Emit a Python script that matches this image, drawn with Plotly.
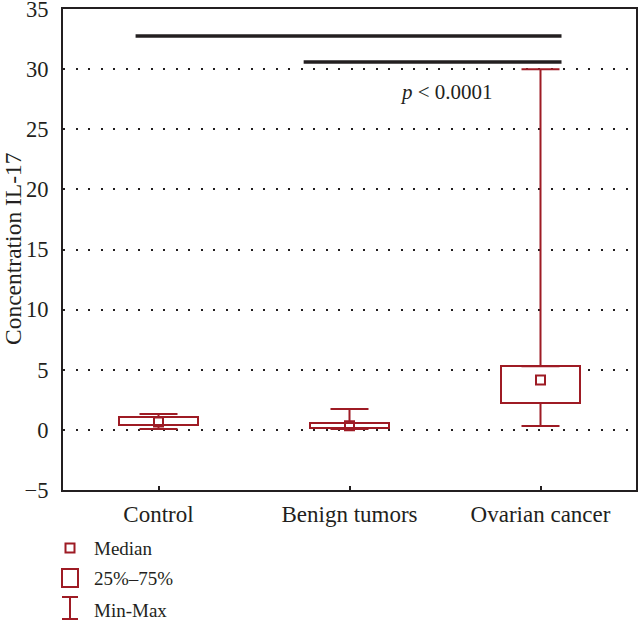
import plotly.graph_objects as go

# ---- data ----
categories = ["Control", "Benign tumors", "Ovarian cancer"]
q1 = [0.41, 0.16, 2.24]
q3 = [1.08, 0.57, 5.30]
median = [0.66, 0.35, 4.15]
vmin = [0.08, 0.07, 0.32]
vmax = [1.32, 1.74, 30.0]
y_ticks = [-5, 0, 5, 10, 15, 20, 25, 30, 35]
legend_labels = ["Median", "25%\u201375%", "Min-Max"]
sig_lines = [(-0.12, 2.11, 32.76), (0.76, 2.11, 30.6)]  # (x start, x end, y)
p_text = "<i>p</i> < 0.0001"
p_pos = (1.51, 28.1)

RED = "#9e1b24"
INK = "#231f20"
FONT = "Liberation Serif"

xs = list(range(len(categories)))

fig = go.Figure()

# upper whiskers
fig.add_trace(go.Scatter(
    x=xs, y=q3, mode="markers",
    marker=dict(size=1, color="rgba(0,0,0,0)"),
    error_y=dict(type="data", symmetric=False,
                 array=[a - b for a, b in zip(vmax, q3)],
                 arrayminus=[0] * 3, color=RED, thickness=2, width=19),
    showlegend=False, hoverinfo="skip"))
# lower whiskers
fig.add_trace(go.Scatter(
    x=xs, y=q1, mode="markers",
    marker=dict(size=1, color="rgba(0,0,0,0)"),
    error_y=dict(type="data", symmetric=False,
                 array=[0] * 3,
                 arrayminus=[b - a for a, b in zip(vmin, q1)],
                 color=RED, thickness=2, width=19),
    showlegend=False, hoverinfo="skip"))
# boxes
fig.add_trace(go.Bar(
    x=xs, y=[b - a for a, b in zip(q1, q3)], base=q1, width=0.41,
    marker=dict(color="white", line=dict(color=RED, width=2)),
    showlegend=False, hoverinfo="skip"))
# medians
fig.add_trace(go.Scatter(
    x=xs, y=median, mode="markers",
    marker=dict(symbol="square-open", size=9, color=RED, line=dict(width=2, color=RED)),
    showlegend=False, hoverinfo="skip"))

# significance lines
for x0, x1, yy in sig_lines:
    fig.add_shape(type="line", xref="x", yref="y", x0=x0, x1=x1, y0=yy, y1=yy,
                  line=dict(color=INK, width=3.5))

fig.add_annotation(x=p_pos[0], y=p_pos[1], xref="x", yref="y", text=p_text,
                   showarrow=False, font=dict(family=FONT, size=21, color=INK))

# ---- legend drawn in pixel positions converted to paper ----
L, R, T, B = 63, 2, 9, 150
W, H = 638, 640
pw, ph = W - L - R, H - T - B


def px(x):
    return (x - L) / pw


def py(y):
    return (H - B - y) / ph


leg_line = dict(color=RED, width=2)
fig.add_shape(type="rect", xref="paper", yref="paper",
              x0=px(65.5), x1=px(74.5), y0=py(552.5), y1=py(543.5), line=leg_line)
fig.add_shape(type="rect", xref="paper", yref="paper",
              x0=px(62), x1=px(78), y0=py(587), y1=py(569), line=leg_line)
fig.add_shape(type="line", xref="paper", yref="paper",
              x0=px(70), x1=px(70), y0=py(619), y1=py(597), line=leg_line)
fig.add_shape(type="line", xref="paper", yref="paper",
              x0=px(62), x1=px(78), y0=py(597), y1=py(597), line=leg_line)
fig.add_shape(type="line", xref="paper", yref="paper",
              x0=px(62), x1=px(78), y0=py(619), y1=py(619), line=leg_line)
for lab, yy in zip(legend_labels, [548, 578, 610]):
    fig.add_annotation(x=px(92), y=py(yy), xref="paper", yref="paper", text=lab,
                       showarrow=False, xanchor="left", yanchor="middle",
                       font=dict(family=FONT, size=19, color=INK))

# y-axis title
fig.add_annotation(x=px(13), y=py(249), xref="paper", yref="paper",
                   text="Concentration IL-17", textangle=-90, showarrow=False,
                   xanchor="center", yanchor="middle",
                   font=dict(family=FONT, size=23.5, color=INK))

fig.update_layout(
    width=W, height=H,
    margin=dict(l=L, r=R, t=T, b=B, autoexpand=False),
    paper_bgcolor="white", plot_bgcolor="white",
    font=dict(family=FONT, size=21, color=INK),
    bargap=0,
)
fig.update_xaxes(
    range=[-0.5, 2.5], tickvals=xs, ticktext=categories,
    showline=True, mirror=True, linecolor=INK, linewidth=2,
    ticks="inside", ticklen=4, tickwidth=1.5, tickcolor=INK,
    showgrid=False, zeroline=False, ticklabelstandoff=2, automargin=False,
    tickfont=dict(family=FONT, size=23, color=INK),
)
fig.update_yaxes(
    range=[-5.0001, 35.0001], tickvals=y_ticks,
    showline=True, mirror=True, linecolor=INK, linewidth=2,
    ticks="", showgrid=True, gridcolor=INK, gridwidth=2, griddash="2px,10.5px",
    zeroline=False, ticklabelstandoff=8, automargin=False, ticklabeloverflow="allow",
    tickfont=dict(family=FONT, size=22.5, color=INK),
)

fig.write_html("out.html", config={"displayModeBar": False},
               post_script="document.body.style.margin='0';")
